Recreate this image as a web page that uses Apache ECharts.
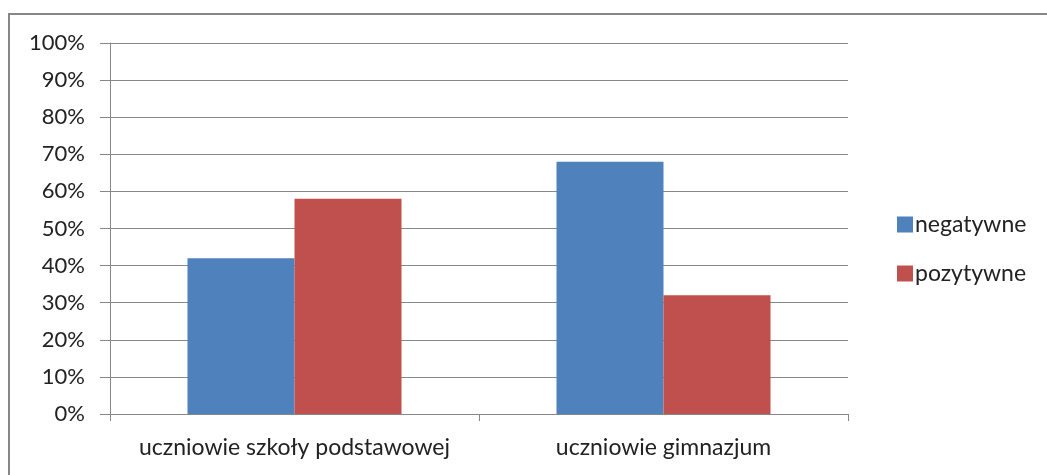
<!DOCTYPE html>
<html><head><meta charset="utf-8">
<script src="https://cdn.jsdelivr.net/npm/echarts@6/dist/echarts.min.js"></script>
<style>html,body{margin:0;padding:0;background:#fff}#c{width:1047px;height:475px}</style>
</head><body><div id="c"></div>
<script>
const categories = ['uczniowie szkoły podstawowej', 'uczniowie gimnazjum'];
const negatywne = [42, 68];
const pozytywne = [58, 32];
const seriesNames = ['negatywne', 'pozytywne'];

const font = 'Lato, "Open Sans", sans-serif';
const chart = echarts.init(document.getElementById('c'));
chart.setOption({
  backgroundColor: '#fff',
  animation: false,
  graphic: [{
    type: 'rect', shape: { x: 9, y: 14, width: 1060, height: 480 },
    style: { fill: 'none', stroke: '#878787', lineWidth: 2 }, z: 100
  }],
  grid: { left: 110, right: 199, top: 43, bottom: 61 },
  legend: {
    orient: 'vertical', left: 892, top: 208, itemWidth: 16, itemHeight: 16, itemGap: 26,
    icon: 'rect', data: seriesNames,
    textStyle: { fontFamily: font, fontSize: 23, color: '#222', padding: [0, 0, 0, -3] }
  },
  xAxis: {
    type: 'category', data: categories,
    axisLine: { lineStyle: { color: '#878787', width: 1 } },
    axisTick: { show: true, length: 7, lineStyle: { color: '#878787' } },
    axisLabel: { fontFamily: font, fontSize: 23, color: '#222', margin: 22, interval: 0, hideOverlap: false }
  },
  yAxis: {
    type: 'value', min: 0, max: 100, interval: 10,
    axisLine: { show: true, lineStyle: { color: '#878787' } },
    axisTick: { show: true, length: 10, lineStyle: { color: '#878787' } },
    splitLine: { lineStyle: { color: '#878787', width: 1 } },
    axisLabel: { fontFamily: font, fontSize: 22, color: '#222', margin: 25, formatter: '{value}%' }
  },
  series: [
    { name: seriesNames[0], type: 'bar', data: negatywne, itemStyle: { color: '#4F81BD' }, barGap: '0%', barCategoryGap: '42%' },
    { name: seriesNames[1], type: 'bar', data: pozytywne, itemStyle: { color: '#C0504D' }, barGap: '0%', barCategoryGap: '42%' }
  ]
});
</script></body></html>
